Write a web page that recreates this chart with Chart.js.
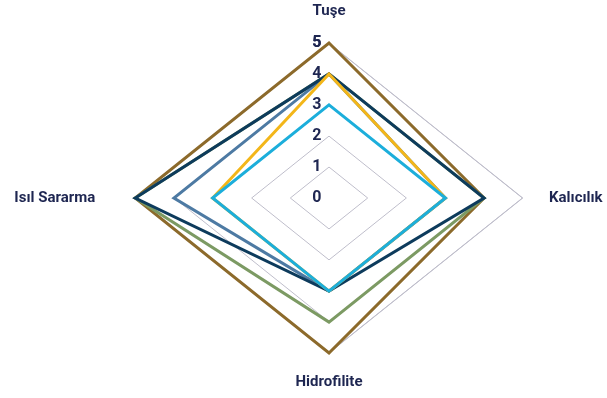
<!DOCTYPE html>
<html>
<head>
<meta charset="utf-8">
<script src="https://cdn.jsdelivr.net/npm/chart.js"></script>
<style>
  html, body { margin: 0; background: #fff; overflow: hidden; }
  #radar { display: block; }
</style>
</head>
<body>
<canvas id="radar" width="658" height="398"></canvas>
<script>
// eksenler ve seriler
var kategoriler = ['Tuşe', 'Kalıcılık', 'Hidrofilite', 'Isıl Sararma'];
var tikler = [0, 1, 2, 3, 4, 5];

var seriMavi   = [3, 3, 3, 3];
var seriSari   = [4, 3, 3, 3];
var seriLacivert = [4, 4, 3, 5];
var seriCelik  = [4, 3, 3, 4];
var seriYesil  = [4, 4, 4, 5];
var seriKahve  = [5, 4, 5, 5];

var lacivertYazi = '#1e2651';
var gridRenk = '#bfbecb';
var YATAY = 1.25;   // excel grafiği yatayda geniş çizilmiş

// radialLinear ama x ekseni yatayda gerilmiş
class GenisRadyal extends Chart.RadialLinearScale {
    static id = 'genisRadyal';
    static defaults = Chart.RadialLinearScale.defaults;

    fit() {
        this._sx = 1;
        super.fit();
        this._sx = YATAY;
        var me = this;
        (this._pointLabelItems || []).forEach(function(it){
            var dx = (YATAY - 1) * (it.x - me.xCenter);
            it.x += dx;
            it.left += dx;
            it.right += dx;
        });
    }

    getPointPosition(index, distance, additionalAngle) {
        var p = super.getPointPosition(index, distance, additionalAngle);
        var sx = this._sx || YATAY;
        return { x: this.xCenter + (p.x - this.xCenter) * sx, y: p.y, angle: p.angle };
    }
}
Chart.register(GenisRadyal);

function seri(ad, veri, renk) {
    return {
        label: ad,
        data: veri,
        borderColor: renk,
        backgroundColor: renk,
        borderWidth: 3,
        fill: false,
        pointRadius: 0,
        pointHoverRadius: 0
    };
}

function tikYazisi(v) {
    if (v < -0.5) return '';
    var n = Math.round(v);
    if (tikler.indexOf(n) < 0) return '';
    return n + '\u2003\u2002';
}

var ctx = document.getElementById('radar');
var grafik = new Chart(ctx, {
    type: 'radar',
    data: {
        labels: kategoriler,
        datasets: [
            seri('Seri 1', seriMavi, '#1caedb'),
            seri('Seri 2', seriSari, '#f3b619'),
            seri('Seri 3', seriLacivert, '#0d3b5c'),
            seri('Seri 4', seriCelik, '#4d7aa3'),
            seri('Seri 5', seriYesil, '#7c9a63'),
            seri('Seri 6', seriKahve, '#8c6a2b')
        ]
    },
    options: {
        responsive: false,
        animation: false,
        events: [],
        layout: { padding: { top: 3, bottom: 7, left: 0, right: 0 } },
        plugins: {
            legend: { display: false },
            tooltip: { enabled: false }
        },
        scales: {
            r: {
                type: 'genisRadyal',
                min: -0.01,
                max: 5,
                bounds: 'data',
                angleLines: { display: false },
                grid: {
                    lineWidth: 1,
                    color: function(c){ return (c.tick && c.tick.value > 0.5) ? gridRenk : 'rgba(0,0,0,0)'; }
                },
                ticks: {
                    stepSize: 1,
                    includeBounds: false,
                    showLabelBackdrop: false,
                    backdropPadding: 0,
                    color: lacivertYazi,
                    font: { family: 'Roboto', size: 16, weight: 'bold' },
                    callback: tikYazisi
                },
                pointLabels: {
                    color: lacivertYazi,
                    font: { family: 'Roboto', size: 15, weight: 'bold', lineHeight: 1 },
                    padding: function(c){ return [16, 13, 14, 24][c.index]; }
                }
            }
        }
    }
});
</script>
</body>
</html>
